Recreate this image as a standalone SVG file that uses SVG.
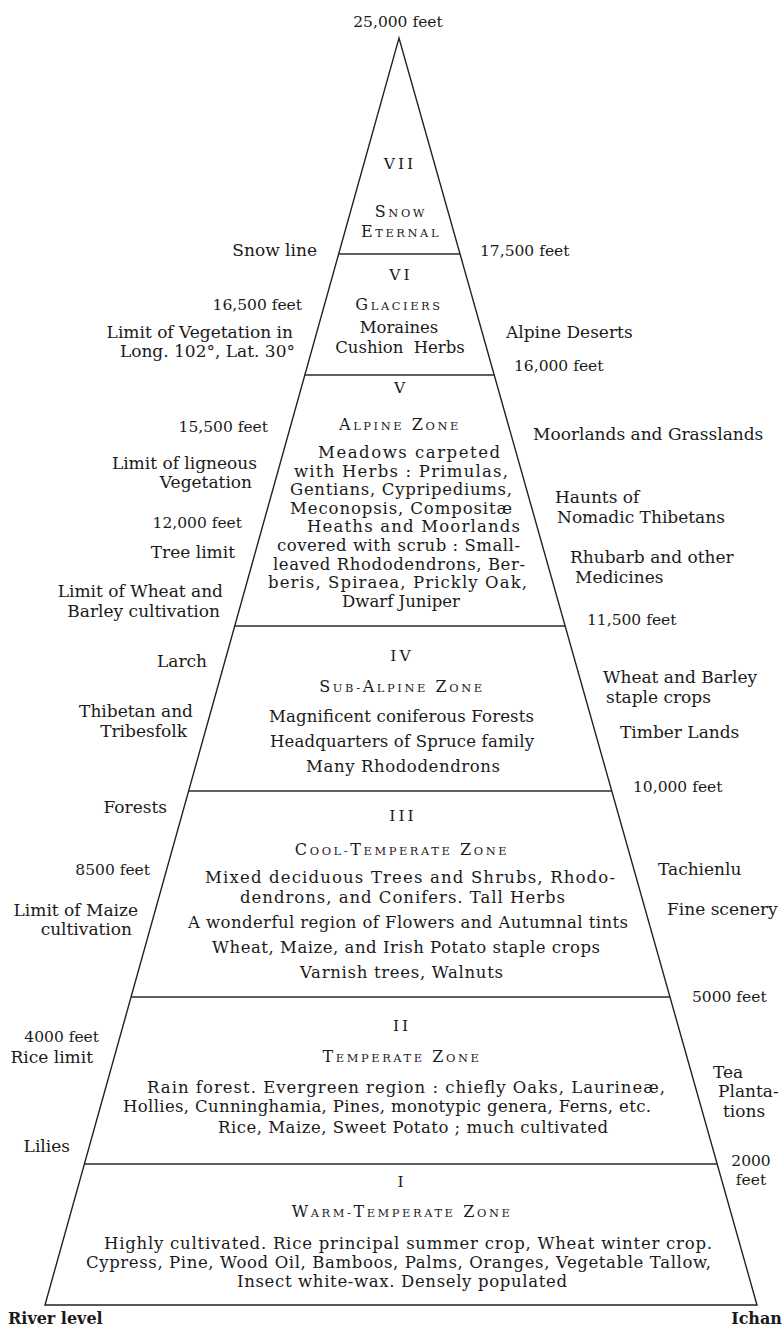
<svg xmlns="http://www.w3.org/2000/svg" width="783" height="1328" viewBox="0 0 783 1328">
<style>
.t{font-family:"DejaVu Serif","Liberation Serif",serif;fill:#1a1a1a}
.b{font-size:16.5px}
.l{font-size:17px}
.n{font-size:15.5px}
.rn{font-size:15.5px;letter-spacing:3px;text-anchor:middle}
.ttl{font-size:16px;letter-spacing:2.6px;text-anchor:middle}
.sc{font-size:11.4px}
.e{text-anchor:end}
.m{text-anchor:middle}
.bd{font-size:16px;font-weight:bold}
.edge{stroke:#222;stroke-width:1.4;fill:none;stroke-linejoin:miter}
.dv{stroke:#2a2a2a;stroke-width:1.6}
</style>
<rect width="783" height="1328" fill="#fff"/>
<g id="connectors">
<path class="edge" d="M45,1305 L399,38 L757,1305 Z"/>
<line class="dv" x1="338.6" y1="254" x2="460" y2="254"/>
<line class="dv" x1="304.8" y1="375" x2="494.2" y2="375"/>
<line class="dv" x1="234.7" y1="626" x2="565.2" y2="626"/>
<line class="dv" x1="188.6" y1="791" x2="611.8" y2="791"/>
<line class="dv" x1="131.1" y1="997" x2="670" y2="997"/>
<line class="dv" x1="84.4" y1="1164" x2="717.2" y2="1164"/>
</g>
<g id="zone-7">
<text class="t rn" x="400" y="169">VII</text>
<text class="t ttl" x="401" y="217">S<tspan class="sc">NOW</tspan></text>
<text class="t ttl" x="401" y="237">E<tspan class="sc">TERNAL</tspan></text>
</g>
<g id="zone-6">
<text class="t rn" x="401" y="280">VI</text>
<text class="t ttl" x="399" y="310">G<tspan class="sc">LACIERS</tspan></text>
<text class="t b m" x="399" y="333">Moraines</text>
<text class="t b m" x="400" y="353" word-spacing="5">Cushion Herbs</text>
</g>
<g id="zone-5">
<text class="t rn" x="401" y="393">V</text>
<text class="t ttl" x="400" y="430">A<tspan class="sc">LPINE</tspan> Z<tspan class="sc">ONE</tspan></text>
<text class="t b" x="318" y="458" textLength="182" lengthAdjust="spacing">Meadows carpeted</text>
<text class="t b" x="294" y="476.6" textLength="214" lengthAdjust="spacing">with Herbs : Primulas,</text>
<text class="t b" x="290" y="495.2" textLength="222" lengthAdjust="spacing">Gentians, Cypripediums,</text>
<text class="t b" x="290" y="513.8" textLength="222" lengthAdjust="spacing">Meconopsis, Compositæ</text>
<text class="t b" x="307" y="532.4" textLength="213" lengthAdjust="spacing">Heaths and Moorlands</text>
<text class="t b" x="277" y="551" textLength="243" lengthAdjust="spacing">covered with scrub : Small-</text>
<text class="t b" x="273" y="569.6" textLength="252" lengthAdjust="spacing">leaved Rhododendrons, Ber-</text>
<text class="t b" x="268" y="588.2" textLength="259" lengthAdjust="spacing">beris, Spiraea, Prickly Oak,</text>
<text class="t b m" x="401" y="607">Dwarf Juniper</text>
</g>
<g id="zone-4">
<text class="t rn" x="402" y="661">IV</text>
<text class="t ttl" x="402" y="692">S<tspan class="sc">UB-</tspan>A<tspan class="sc">LPINE</tspan> Z<tspan class="sc">ONE</tspan></text>
<text class="t b" x="269" y="722" textLength="265" lengthAdjust="spacing">Magnificent coniferous Forests</text>
<text class="t b" x="270" y="747" textLength="264" lengthAdjust="spacing">Headquarters of Spruce family</text>
<text class="t b" x="306" y="772" textLength="194" lengthAdjust="spacing">Many Rhododendrons</text>
</g>
<g id="zone-3">
<text class="t rn" x="403" y="821">III</text>
<text class="t ttl" x="402" y="855">C<tspan class="sc">OOL-</tspan>T<tspan class="sc">EMPERATE</tspan> Z<tspan class="sc">ONE</tspan></text>
<text class="t b" x="205" y="883" textLength="410" lengthAdjust="spacing">Mixed deciduous Trees and Shrubs, Rhodo-</text>
<text class="t b" x="240" y="903" textLength="325" lengthAdjust="spacing">dendrons, and Conifers.  Tall Herbs</text>
<text class="t b" x="188" y="928" textLength="440" lengthAdjust="spacing">A wonderful region of Flowers and Autumnal tints</text>
<text class="t b" x="212" y="953" textLength="388" lengthAdjust="spacing">Wheat, Maize, and Irish Potato staple crops</text>
<text class="t b" x="300" y="978" textLength="203" lengthAdjust="spacing">Varnish trees, Walnuts</text>
</g>
<g id="zone-2">
<text class="t rn" x="402" y="1031">II</text>
<text class="t ttl" x="402" y="1062">T<tspan class="sc">EMPERATE</tspan> Z<tspan class="sc">ONE</tspan></text>
<text class="t b" x="147" y="1093" textLength="518" lengthAdjust="spacing">Rain forest.  Evergreen region :  chiefly Oaks, Laurineæ,</text>
<text class="t b" x="123" y="1112" textLength="528" lengthAdjust="spacing">Hollies, Cunninghamia, Pines, monotypic genera, Ferns, etc.</text>
<text class="t b" x="218" y="1133" textLength="390" lengthAdjust="spacing">Rice, Maize, Sweet Potato ; much cultivated</text>
</g>
<g id="zone-1">
<text class="t rn" x="402" y="1187">I</text>
<text class="t ttl" x="402" y="1217">W<tspan class="sc">ARM-</tspan>T<tspan class="sc">EMPERATE</tspan> Z<tspan class="sc">ONE</tspan></text>
<text class="t b" x="104" y="1249" textLength="608" lengthAdjust="spacing">Highly cultivated.  Rice principal summer crop, Wheat winter crop.</text>
<text class="t b" x="86" y="1268" textLength="625" lengthAdjust="spacing">Cypress, Pine, Wood Oil, Bamboos, Palms, Oranges, Vegetable Tallow,</text>
<text class="t b" x="237" y="1287" textLength="330" lengthAdjust="spacing">Insect white-wax.  Densely populated</text>
</g>
<g id="labels-left">
<text class="t l e" x="317" y="256">Snow line</text>
<text class="t n e" x="302" y="310">16,500 feet</text>
<text class="t l e" x="293" y="338">Limit of Vegetation in</text>
<text class="t l e" x="295" y="357">Long. 102°, Lat. 30°</text>
<text class="t n e" x="268" y="432">15,500 feet</text>
<text class="t l e" x="257" y="469">Limit of ligneous</text>
<text class="t l e" x="252" y="488">Vegetation</text>
<text class="t n e" x="242" y="528">12,000 feet</text>
<text class="t l e" x="235" y="558">Tree limit</text>
<text class="t l e" x="223" y="597">Limit of Wheat and</text>
<text class="t l e" x="220" y="617">Barley cultivation</text>
<text class="t l e" x="207" y="667">Larch</text>
<text class="t l e" x="193" y="717">Thibetan and</text>
<text class="t l e" x="187" y="737">Tribesfolk</text>
<text class="t l e" x="167" y="813">Forests</text>
<text class="t n e" x="150" y="875">8500 feet</text>
<text class="t l e" x="138" y="916">Limit of Maize</text>
<text class="t l e" x="132" y="935">cultivation</text>
<text class="t n e" x="99" y="1042">4000 feet</text>
<text class="t l e" x="93" y="1063">Rice limit</text>
<text class="t l e" x="70" y="1152">Lilies</text>
<text class="t bd" x="8" y="1324">River level</text>
</g>
<g id="labels-right">
<text class="t n m" x="398" y="27">25,000 feet</text>
<text class="t n" x="480" y="256">17,500 feet</text>
<text class="t l" x="506" y="338">Alpine Deserts</text>
<text class="t n" x="514" y="371">16,000 feet</text>
<text class="t l" x="533" y="440">Moorlands and Grasslands</text>
<text class="t l" x="555" y="503">Haunts of</text>
<text class="t l" x="557" y="523">Nomadic Thibetans</text>
<text class="t l" x="570" y="563">Rhubarb and other</text>
<text class="t l" x="575" y="583">Medicines</text>
<text class="t n" x="587" y="625">11,500 feet</text>
<text class="t l" x="603" y="683">Wheat and Barley</text>
<text class="t l" x="606" y="703">staple crops</text>
<text class="t l" x="620" y="738">Timber Lands</text>
<text class="t n" x="633" y="792">10,000 feet</text>
<text class="t l" x="658" y="875">Tachienlu</text>
<text class="t l" x="667" y="915">Fine scenery</text>
<text class="t n" x="692" y="1002">5000 feet</text>
<text class="t l" x="713" y="1078">Tea</text>
<text class="t l" x="718" y="1097">Planta-</text>
<text class="t l" x="723" y="1117">tions</text>
<text class="t n m" x="751" y="1166">2000</text>
<text class="t n m" x="751" y="1185">feet</text>
<text class="t bd e" x="782" y="1324">Ichan</text>
</g>
</svg>
